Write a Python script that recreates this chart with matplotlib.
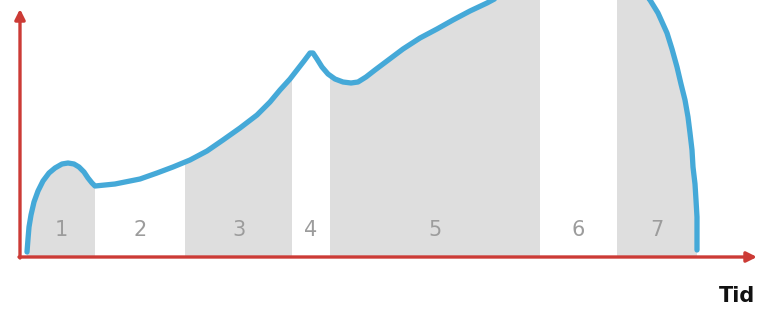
import matplotlib
matplotlib.use("Agg")
import matplotlib.pyplot as plt
from matplotlib.patches import Polygon

# Curve (x in pixels from left, height above time axis in pixels)
curve_x = [27, 28, 29, 31, 34, 38, 43, 49, 55, 62, 68, 74, 79, 84, 88, 92, 95,
           105, 115, 125, 140, 157, 173, 190, 207, 223, 240, 257, 270, 280, 290, 297, 304, 310,
           313, 317, 322, 328, 335, 343, 351, 358, 366, 375, 387, 403, 420, 437, 453, 470, 487,
           500, 520, 545, 570, 595, 615, 630, 640, 650, 658, 667, 672, 677, 681, 685, 688,
           690, 692, 693, 695, 696, 697, 697, 697]
curve_y = [5, 18, 30, 42, 55, 66, 76, 84, 89, 93, 94, 93, 90, 85, 79, 74, 71,
           72, 73, 75, 78, 84, 90, 97, 106, 117, 129, 142, 155, 167, 178, 187, 196, 204,
           204, 198, 190, 183, 178, 175, 174, 175, 180, 187, 196, 208, 219, 228, 237, 246, 254,
           261, 271, 279, 284, 285, 282, 276, 268, 257, 244, 224, 208, 190, 173, 157, 140,
           124, 107, 90, 73, 57, 40, 24, 7]

# Phase segments: boundaries, labels, shaded or not
seg_edges = [27, 95, 185, 292, 330, 540, 617, 697]
seg_labels = ["1", "2", "3", "4", "5", "6", "7"]
seg_shaded = [True, False, True, False, True, False, True]
axis_label = "Tid"

W, H = 758, 310
axis_y_pix = 257
fig = plt.figure(figsize=(W / 100, H / 100), dpi=100)
ax = fig.add_axes([0, 0, 1, 1])
ax.set_xlim(0, W)
ax.set_ylim(axis_y_pix - H, axis_y_pix)
ax.axis("off")

# clip polygon: area under curve
poly_pts = [(x, y) for x, y in zip(curve_x, curve_y)] + [(curve_x[-1], 0), (curve_x[0], 0)]
clip = Polygon(poly_pts, closed=True, facecolor="none", edgecolor="none")
ax.add_patch(clip)

for i, lab in enumerate(seg_labels):
    a, b = seg_edges[i], seg_edges[i + 1]
    if seg_shaded[i]:
        span = ax.axvspan(a, b, ymin=0, ymax=1, color="#dedede", lw=0, zorder=1)
        span.set_clip_path(clip)
    ax.text((a + b) / 2, 27, lab, ha="center", va="center", fontsize=15,
            color="#9c9c9c", zorder=3)

# curve
ax.plot(curve_x, curve_y, color="#45a9d8", lw=3.8, solid_capstyle="round",
        solid_joinstyle="round", zorder=4)

# axes in red with arrows
red = "#cc3b36"
ax.annotate("", xy=(757, 0), xytext=(19, 0),
            arrowprops=dict(arrowstyle="-|>,head_length=0.6,head_width=0.3",
                            color=red, lw=2.4, shrinkA=0, shrinkB=0), zorder=5)
ax.annotate("", xy=(20, 248), xytext=(20, -1),
            arrowprops=dict(arrowstyle="-|>,head_length=0.6,head_width=0.3",
                            color=red, lw=2.4, shrinkA=0, shrinkB=0), zorder=5)

ax.text(755, -39, axis_label, ha="right", va="center", fontsize=15,
        fontweight="bold", color="#111111")

fig.savefig("out.png", dpi=100)
